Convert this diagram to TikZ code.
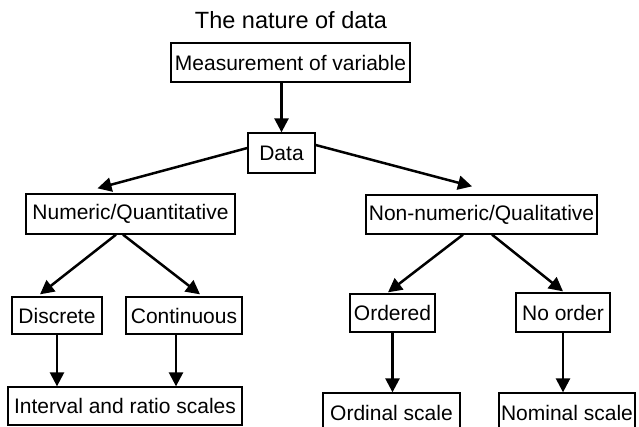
\documentclass[tikz,border=0pt]{standalone}
\usepackage{fontspec}
\setmainfont{Liberation Sans}
\usetikzlibrary{arrows.meta}
\tikzset{
  box/.style={draw, line width=1.3pt, inner sep=0pt, font=\fontsize{21}{25}\selectfont, text=black},
  conn/.style={line width=2.5pt, -{Triangle[width=14pt,length=14pt]}, black}
}
\begin{document}
\begin{tikzpicture}[x=1pt,y=-1pt]
\clip (0,0) rectangle (639,427);
\fill[white] (0,0) rectangle (639,427);
\node[font=\fontsize{23.5}{28}\selectfont, text=black] (title) at (291,20) {The nature of data};
\node[box, minimum width=239pt, minimum height=39pt] (meas) at (290.5,62.5) {Measurement of variable};
\node[box, minimum width=67pt, minimum height=40pt] (data) at (281.5,153) {Data};
\node[box, minimum width=209pt, minimum height=40pt] (num) at (130.5,214) {Numeric/Quantitative};
\node[box, minimum width=231pt, minimum height=39pt] (non) at (481.5,214.5) {Non-numeric/Qualitative};
\node[box, minimum width=90pt, minimum height=37pt] (disc) at (57,315.5) {Discrete};
\node[box, minimum width=116pt, minimum height=37pt] (cont) at (184,315.5) {Continuous};
\node[box, minimum width=234pt, minimum height=38pt] (intv) at (125,406) {Interval and ratio scales};
\node[box, minimum width=85pt, minimum height=38pt] (ord) at (392.5,313) {Ordered};
\node[box, minimum width=94pt, minimum height=39pt] (noord) at (563,312.5) {No order};
\node[box, minimum width=137pt, minimum height=40pt] (ordin) at (391.5,413) {Ordinal scale};
\node[box, minimum width=136pt, minimum height=40pt] (nomin) at (567,413) {Nominal scale};

\draw[conn] (meas.south -| data.north) -- (data.north);
\draw[conn] ([yshift=5pt]data.west) -- ([xshift=-33pt,yshift=5pt]num.north);
\draw[conn] ([yshift=8pt]data.east) -- ([xshift=-9.5pt,yshift=8pt]non.north);
\draw[conn] ([xshift=-14.5pt]num.south) -- ([xshift=-17pt,yshift=2pt]disc.north);
\draw[conn] ([xshift=-7.5pt]num.south) -- ([xshift=16pt,yshift=2pt]cont.north);
\draw[conn] ([xshift=-18.5pt]non.south) -- ([xshift=-4.5pt,yshift=1pt]ord.north);
\draw[conn] ([xshift=10.5pt]non.south) -- ([yshift=1pt]noord.north);
\draw[conn] (disc.south) -- (disc.south |- intv.north);
\draw[conn] ([xshift=-8pt]cont.south) -- ([xshift=-8pt]cont.south |- intv.north);
\draw[conn] (ord.south) -- (ord.south |- ordin.north);
\draw[conn] (noord.south) -- (noord.south |- nomin.north);
\end{tikzpicture}
\end{document}
